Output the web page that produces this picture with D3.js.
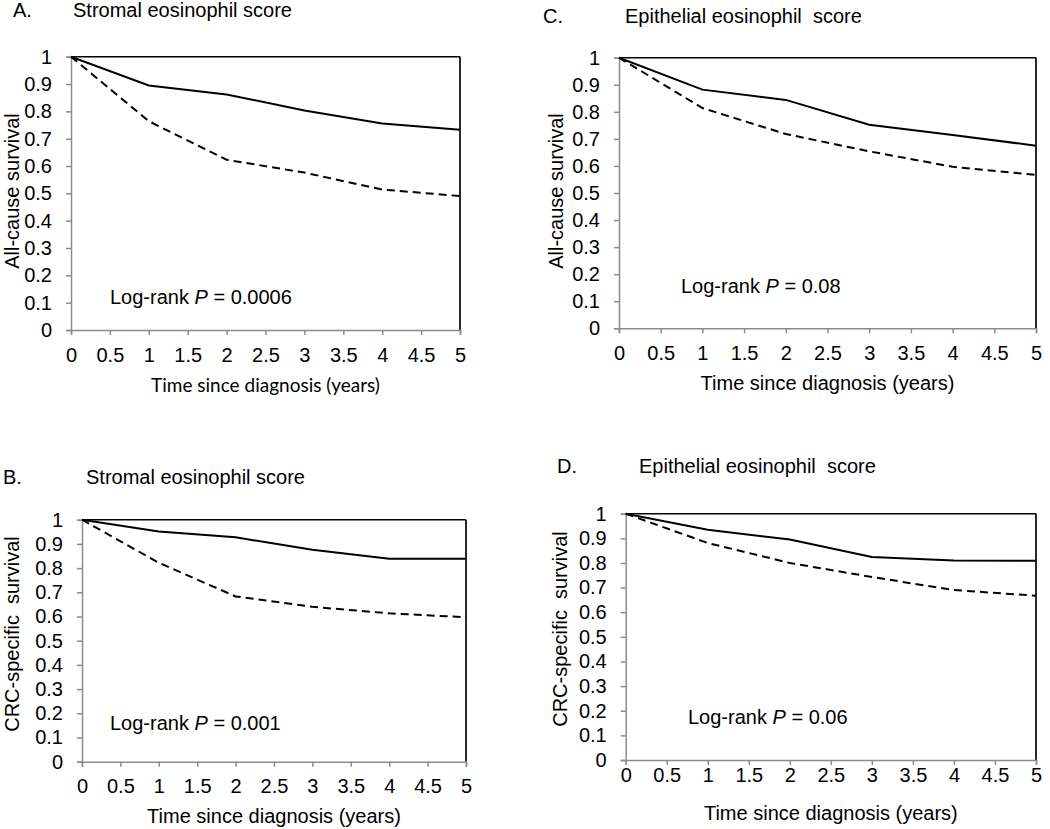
<!DOCTYPE html>
<html><head><meta charset="utf-8">
<script src="https://cdn.jsdelivr.net/npm/d3@7"></script>
<style>
html,body{margin:0;padding:0;background:#fff;}
text{font-family:"Liberation Sans",Arial,sans-serif;white-space:pre;}
</style></head>
<body><svg id="c" width="1050" height="829"></svg>
<script>
// ---- data ----
const times = [0, 1, 2, 3, 4, 5];
const xTicks = [0, 0.5, 1, 1.5, 2, 2.5, 3, 3.5, 4, 4.5, 5];
const yTicks = [0, 0.1, 0.2, 0.3, 0.4, 0.5, 0.6, 0.7, 0.8, 0.9, 1];
const aSolid  = [1, 0.895, 0.862, 0.803, 0.756, 0.733];
const aDashed = [1, 0.764, 0.623, 0.576, 0.514, 0.490];
const cSolid  = [1, 0.882, 0.844, 0.752, 0.714, 0.675];
const cDashed = [1, 0.814, 0.718, 0.654, 0.597, 0.567];
const bSolid  = [1, 0.951, 0.927, 0.876, 0.839, 0.839];
const bDashed = [1, 0.822, 0.683, 0.640, 0.613, 0.597];
const dSolid  = [1, 0.935, 0.895, 0.824, 0.810, 0.809];
const dDashed = [1, 0.881, 0.800, 0.743, 0.690, 0.667];
const panelLetters = ["A.", "C.", "B.", "D."];
const panelTitles = ["Stromal eosinophil score", "Epithelial eosinophil  score", "Stromal eosinophil score", "Epithelial eosinophil  score"];
const yTitles = ["All-cause survival", "All-cause survival", "CRC-specific  survival", "CRC-specific  survival"];
const xTitle = "Time since diagnosis (years)";
const pLabels = ["0.0006", "0.08", "0.001", "0.06"];

// ---- layout ----
const layout = [
  {l:71, r:460, t:56.7, b:330, letterX:13, titleX:73, titleY:17, yTitleX:19, yTitleC:191, xTitleY:392, xTitleFont:'Lato,"Open Sans",sans-serif', xTitleSize:19, xPad:13, pX:110, pY:304, solid:aSolid, dashed:aDashed},
  {l:619, r:1036, t:57.7, b:328.3, letterX:543, titleX:625, titleY:23, yTitleX:563, yTitleC:191, xTitleY:390, xTitleFont:null, xTitleSize:20, xPad:13, pX:681, pY:293, solid:cSolid, dashed:cDashed},
  {l:82, r:466, t:519.7, b:761.7, letterX:3, titleX:86, titleY:484, yTitleX:19, yTitleC:634, xTitleY:823, xTitleFont:null, xTitleSize:20, xPad:12, pX:110, pY:730, solid:bSolid, dashed:bDashed},
  {l:625.7, r:1036, t:513.7, b:760, letterX:557, titleX:639, titleY:473, yTitleX:567, yTitleC:629, xTitleY:820, xTitleFont:null, xTitleSize:20, xPad:3, pX:688, pY:724, solid:dSolid, dashed:dDashed}
];

const svg = d3.select("#c");
const FS = 20;

layout.forEach((L, i) => {
  const x = d3.scaleLinear().domain([0, 5]).range([L.l, L.r]);
  const y = d3.scaleLinear().domain([0, 1]).range([L.b, L.t]);
  const g = svg.append("g");

  // titles
  g.append("text").attr("x", L.letterX).attr("y", L.titleY).attr("font-size", FS).text(panelLetters[i]);
  g.append("text").attr("x", L.titleX).attr("y", L.titleY).attr("font-size", FS).text(panelTitles[i]);

  // frame top & right (black)
  g.append("line").attr("x1", x(0)).attr("x2", x(5)).attr("y1", y(1)).attr("y2", y(1)).attr("stroke", "#000").attr("stroke-width", 1.5);
  g.append("line").attr("x1", x(5)).attr("x2", x(5)).attr("y1", y(1)).attr("y2", y(0)).attr("stroke", "#111").attr("stroke-width", 1.8);

  // axes
  const xa = g.append("g").attr("transform", `translate(0,${L.b})`)
    .call(d3.axisBottom(x).tickValues(xTicks).tickSize(5).tickPadding(L.xPad).tickFormat(d3.format("")));
  const ya = g.append("g").attr("transform", `translate(${L.l},0)`)
    .call(d3.axisLeft(y).tickValues(yTicks).tickSize(5).tickPadding(14).tickFormat(d3.format("")));
  [xa, ya].forEach(a => {
    a.select(".domain").attr("stroke", "#8c8c8c").attr("stroke-width", 1.5);
    a.selectAll(".tick line").attr("stroke", "#8c8c8c").attr("stroke-width", 1.5);
    a.selectAll(".tick text").attr("fill", "#000").attr("font-size", FS).attr("font-family", '"Liberation Sans",Arial,sans-serif');
  });

  // x title
  const xt = g.append("text").attr("x", (L.l + L.r) / 2).attr("y", L.xTitleY).attr("text-anchor", "middle")
    .attr("font-size", L.xTitleSize).text(xTitle);
  if (L.xTitleFont) xt.style("font-family", L.xTitleFont);

  // y title
  g.append("text").attr("transform", `translate(${L.yTitleX},${L.yTitleC}) rotate(-90)`)
    .attr("text-anchor", "middle").attr("font-size", FS).text(yTitles[i]);

  // curves
  const line = d3.line().x((d, j) => x(times[j])).y(d => y(d));
  g.append("path").datum(L.dashed).attr("d", line).attr("fill", "none").attr("stroke", "#000")
    .attr("stroke-width", 2).attr("stroke-dasharray", "8,5");
  g.append("path").datum(L.solid).attr("d", line).attr("fill", "none").attr("stroke", "#000")
    .attr("stroke-width", 2);

  // log-rank
  const t = g.append("text").attr("x", L.pX).attr("y", L.pY).attr("font-size", FS);
  t.append("tspan").text("Log-rank ");
  t.append("tspan").attr("font-style", "italic").text("P");
  t.append("tspan").text(" = " + pLabels[i]);
});
</script></body></html>
